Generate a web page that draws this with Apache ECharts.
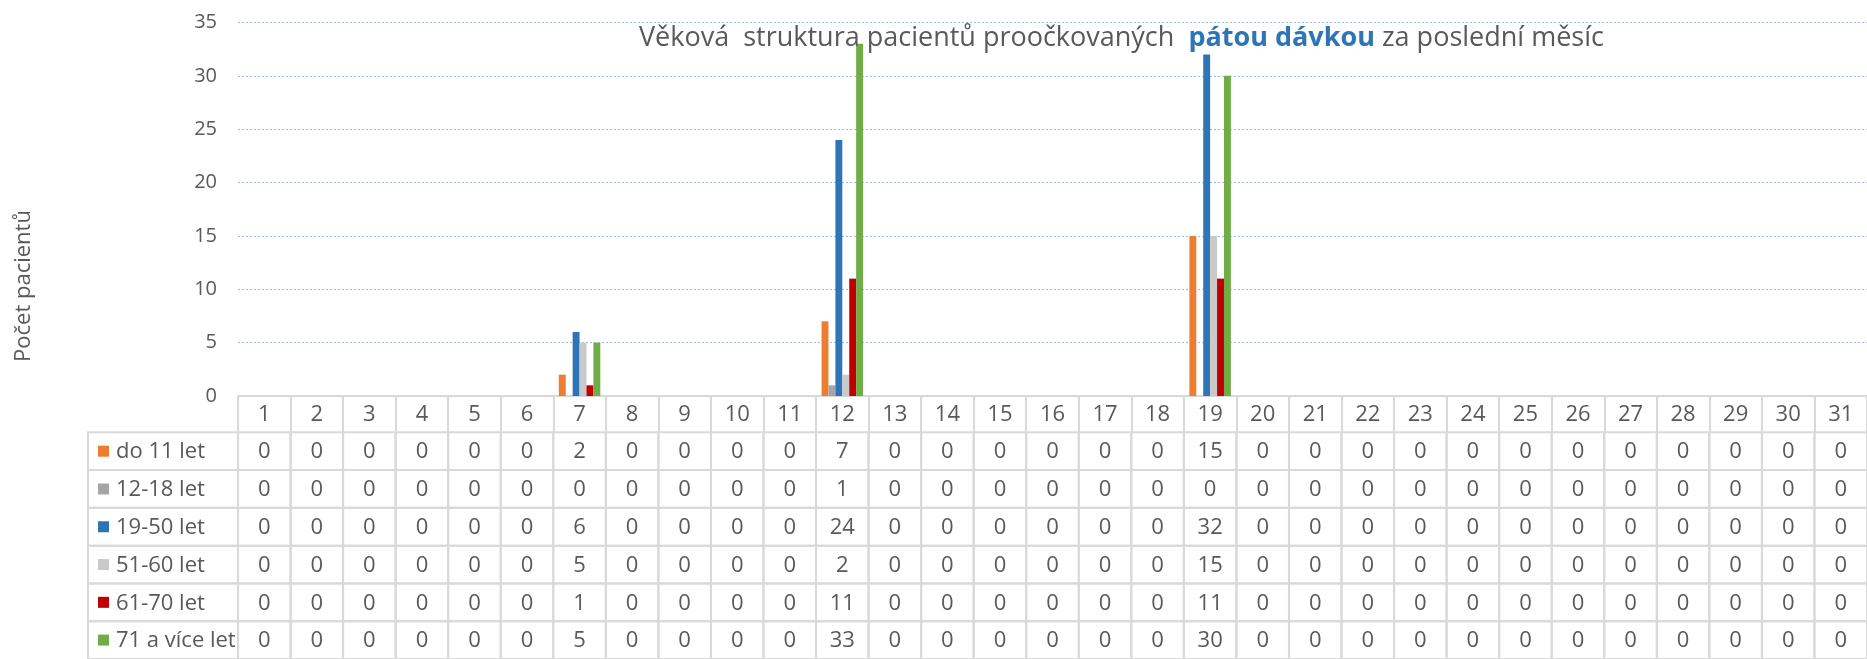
<!DOCTYPE html>
<html><head><meta charset="utf-8">
<script src="https://cdn.jsdelivr.net/npm/echarts@6/dist/echarts.min.js"></script>
<style>html,body{margin:0;padding:0;background:#fff}#c{width:1867px;height:659px}</style>
</head><body><div id="c"></div>
<script>
const days = ['1','2','3','4','5','6','7','8','9','10','11','12','13','14','15','16','17','18','19','20','21','22','23','24','25','26','27','28','29','30','31'];
const seriesNames = ['do 11 let','12-18 let','19-50 let','51-60 let','61-70 let','71 a více let'];
const seriesColors = ['#ED7D31','#A5A5A5','#2E75B6','#C9C9C9','#C00000','#70AD47'];
const do11   = [0,0,0,0,0,0,2,0,0,0,0,7,0,0,0,0,0,0,15,0,0,0,0,0,0,0,0,0,0,0,0];
const age1218 = [0,0,0,0,0,0,0,0,0,0,0,1,0,0,0,0,0,0,0,0,0,0,0,0,0,0,0,0,0,0,0];
const age1950 = [0,0,0,0,0,0,6,0,0,0,0,24,0,0,0,0,0,0,32,0,0,0,0,0,0,0,0,0,0,0,0];
const age5160 = [0,0,0,0,0,0,5,0,0,0,0,2,0,0,0,0,0,0,15,0,0,0,0,0,0,0,0,0,0,0,0];
const age6170 = [0,0,0,0,0,0,1,0,0,0,0,11,0,0,0,0,0,0,11,0,0,0,0,0,0,0,0,0,0,0,0];
const age71   = [0,0,0,0,0,0,5,0,0,0,0,33,0,0,0,0,0,0,30,0,0,0,0,0,0,0,0,0,0,0,0];
const yMin = 0, yMax = 35, yStep = 5;

const allSeries = [do11, age1218, age1950, age5160, age6170, age71];
const FONT = 'Open Sans';
const TXT = '#595959';
const BORDER = '#D9D9D9';
const LABEL_W = 150;
const TFONT = '22px "Open Sans"';

const tableData = [];
allSeries.forEach((arr, r) => arr.forEach((v, d) => tableData.push([d, r, v])));
const labelData = seriesNames.map((n, r) => [0, r]);

const chart = echarts.init(document.getElementById('c'));
const barSeries = allSeries.map((arr, i) => ({
  name: seriesNames[i], type: 'bar', xAxisIndex: 0, yAxisIndex: 0,
  data: arr, barGap: '0%', barCategoryGap: '21%',
  itemStyle: { color: seriesColors[i] }, silent: true
}));

const option = {
  animation: false,
  title: {
    text: '{a|Věková  struktura pacientů proočkovaných  }{b|pátou dávkou}{a| za poslední měsíc}',
    left: 639, top: 25, padding: 0,
    textStyle: { fontWeight: 'normal', rich: {
      a: { fontFamily: FONT, fontSize: 27, fontWeight: 'normal', color: TXT },
      b: { fontFamily: FONT, fontSize: 27, fontWeight: 'bold', color: '#2E75B6' }
    } }
  },
  grid: [
    { left: 238, top: 22.5, width: 1630, height: 373.5 },
    { left: 238, top: 432.3, width: 1630, height: 231 }
  ],
  xAxis: [
    { type: 'category', gridIndex: 0, data: days,
      axisLine: { lineStyle: { color: BORDER, width: 2 } },
      axisTick: { show: true, length: 36, lineStyle: { color: BORDER, width: 2 } },
      axisLabel: { fontFamily: FONT, fontSize: 22, color: TXT, margin: 8 },
      splitLine: { show: false } },
    { type: 'category', gridIndex: 1, data: days, show: false }
  ],
  yAxis: [
    { type: 'value', gridIndex: 0, min: yMin, max: yMax, interval: yStep,
      axisLabel: { fontFamily: FONT, fontSize: 20, color: TXT, margin: 21 },
      axisLine: { show: false }, axisTick: { show: false },
      splitLine: { lineStyle: { type: [2, 2], color: '#A6BDE5', width: 1.2 } } },
    { type: 'category', gridIndex: 1, data: seriesNames, inverse: true, show: false }
  ],
  graphic: [{
    type: 'text', x: 24, y: 286, rotation: Math.PI / 2,
    style: { text: 'Počet pacientů', font: '22px "Open Sans"', fill: TXT, align: 'center', verticalAlign: 'middle' }
  }],
  series: barSeries.concat([
    { type: 'custom', xAxisIndex: 1, yAxisIndex: 1, data: tableData, silent: true, clip: false,
      renderItem: (params, api) => {
        const c = api.coord([api.value(0), api.value(1)]);
        const s = api.size([1, 1]);
        return { type: 'group', children: [
          { type: 'rect', shape: { x: c[0] - s[0] / 2, y: c[1] - s[1] / 2, width: s[0], height: s[1] },
            style: { fill: 'none', stroke: BORDER, lineWidth: 2 } },
          { type: 'text', x: c[0], y: c[1] + 1,
            style: { text: String(api.value(2)), fill: TXT, font: TFONT, align: 'center', verticalAlign: 'middle' } }
        ] };
      } },
    { type: 'custom', xAxisIndex: 1, yAxisIndex: 1, data: labelData, silent: true, clip: false,
      renderItem: (params, api) => {
        const r = params.dataIndex;
        const c = api.coord([0, api.value(1)]);
        const s = api.size([1, 1]);
        const x1 = c[0] - s[0] / 2, x0 = x1 - LABEL_W;
        return { type: 'group', children: [
          { type: 'rect', shape: { x: x0, y: c[1] - s[1] / 2, width: LABEL_W, height: s[1] },
            style: { fill: 'none', stroke: BORDER, lineWidth: 2 } },
          { type: 'rect', shape: { x: x0 + 10, y: c[1] - 5.5, width: 11, height: 11 },
            style: { fill: seriesColors[r] } },
          { type: 'text', x: x0 + 28, y: c[1] + 1,
            style: { text: seriesNames[r], fill: TXT, font: TFONT, align: 'left', verticalAlign: 'middle' } }
        ] };
      } }
  ])
};
chart.setOption(option);
</script>
</body></html>
